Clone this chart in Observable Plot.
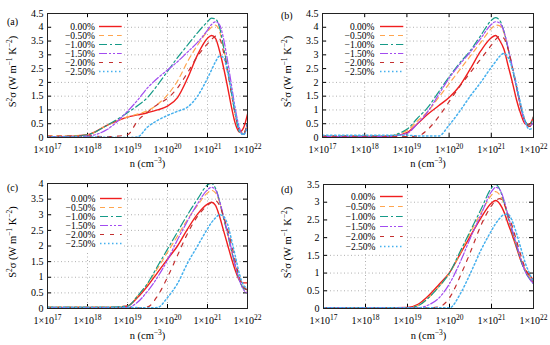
<!DOCTYPE html>
<html><head><meta charset="utf-8">
<script src="https://cdn.jsdelivr.net/npm/d3@7"></script>
<script src="https://cdn.jsdelivr.net/npm/@observablehq/plot@0.6"></script>
<style>
body{margin:0;background:#fff;}
#root{position:relative;width:550px;height:345px;overflow:hidden;background:#fff;font-family:"Liberation Serif",serif;}
#root svg{position:absolute;}
.tag{position:absolute;font-size:10px;line-height:10px;color:#000;}
</style></head><body><div id="root"></div>
<script>
// carrier concentration grid, log10(n / cm^-3)
const logN = [17,17.5,18,18.5,19,19.25,19.5,19.75,20,20.25,20.5,20.75,21,21.1,21.2,21.3,21.4,21.5,21.6,21.7,21.8,21.9,22];
const seriesLabels = ["0.00%","\u22120.50%","\u22121.00%","\u22121.50%","\u22122.00%","\u22122.50%"];
const xTicks = [1e17,1e18,1e19,1e20,1e21,1e22];
const yTicksAB = [0,0.5,1,1.5,2,2.5,3,3.5,4,4.5];
const yTicksC = [0,0.5,1,1.5,2,2.5,3,3.5,4];
const yTicksD = [0,0.5,1,1.5,2,2.5,3,3.5];
const panelTags = ["(a)","(b)","(c)","(d)"];
const yLabel = "S^{2}\u03C3 (W m^{\u22121} K^{\u22122})";
const xLabel = "n (cm^{\u22123})";

// panel (a)
const A_p000 = [0.03,0.04,0.1,0.45,0.74,0.82,0.9,1.0,1.14,1.45,2.15,3.0,3.6,3.7,3.6,3.15,2.55,1.85,1.1,0.48,0.2,0.35,0.85];
const A_m050 = [0.06,0.06,0.1,0.45,0.75,0.85,0.97,1.2,1.55,2.05,2.75,3.35,3.85,4.0,4.08,3.85,3.25,2.45,1.6,0.8,0.25,0.15,0.55];
const A_m100 = [0.03,0.04,0.1,0.45,0.9,1.15,1.45,1.9,2.4,2.9,3.35,3.8,4.2,4.33,4.3,4.0,3.3,2.5,1.6,0.8,0.2,0.12,0.6];
const A_m150 = [0.02,0.02,0.05,0.3,0.95,1.35,1.8,2.15,2.45,2.75,3.1,3.45,3.9,4.1,4.2,4.1,3.6,2.8,1.9,1.0,0.35,0.1,0.5];
const A_m200 = [0.05,0.05,0.05,0.03,0.1,0.6,0.92,1.2,1.42,1.8,2.35,2.95,3.4,3.55,3.68,3.6,3.1,2.4,1.6,0.8,0.25,0.15,0.5];
const A_m250 = [0.02,0.02,0.02,0.01,0.0,0.02,0.38,0.62,0.8,0.95,1.1,1.5,2.15,2.45,2.75,2.95,2.9,2.4,1.7,0.9,0.25,0.1,0.4];
// panel (b)
const B_p000 = [0.02,0.02,0.02,0.03,0.18,0.5,0.85,1.15,1.45,1.87,2.48,3.14,3.62,3.7,3.52,3.2,2.6,2.0,1.35,0.85,0.5,0.48,0.75];
const B_m050 = [0.06,0.06,0.06,0.06,0.25,0.6,0.95,1.45,1.95,2.45,2.95,3.45,3.95,4.08,4.05,3.8,3.2,2.5,1.8,1.1,0.6,0.4,0.6];
const B_m100 = [0.05,0.05,0.05,0.05,0.3,0.7,1.1,1.65,2.2,2.7,3.15,3.7,4.25,4.35,4.25,3.85,3.2,2.5,1.8,1.1,0.6,0.45,0.75];
const B_m150 = [0.03,0.03,0.03,0.03,0.15,0.5,0.95,1.55,2.15,2.65,3.1,3.6,4.1,4.2,4.15,3.85,3.25,2.55,1.8,1.1,0.55,0.4,0.55];
const B_m200 = [0.05,0.05,0.05,0.05,0.03,0.05,0.3,0.75,1.3,1.85,2.35,2.85,3.35,3.55,3.68,3.6,3.2,2.55,1.85,1.15,0.6,0.4,0.5];
const B_m250 = [0.08,0.08,0.08,0.08,0.08,0.06,0.05,0.05,0.45,0.95,1.5,2.0,2.55,2.75,2.95,3.05,2.9,2.5,1.9,1.2,0.6,0.3,0.35];
// panel (c)
const C_p000 = [0.03,0.03,0.03,0.03,0.08,0.35,0.72,1.15,1.58,2.0,2.54,3.02,3.34,3.4,3.3,2.95,2.5,2.05,1.6,1.2,0.9,0.82,0.82];
const C_m050 = [0.05,0.05,0.05,0.05,0.08,0.4,0.78,1.28,1.8,2.32,2.85,3.3,3.7,3.78,3.7,3.4,2.9,2.4,1.85,1.35,0.9,0.65,0.55];
const C_m100 = [0.04,0.04,0.04,0.04,0.08,0.4,0.8,1.35,1.9,2.45,3.0,3.5,3.95,4.0,3.85,3.45,2.9,2.4,1.85,1.35,0.9,0.65,0.6];
const C_m150 = [0.03,0.03,0.03,0.03,0.03,0.2,0.55,1.0,1.55,2.2,2.8,3.35,3.8,3.88,3.8,3.45,2.95,2.45,1.9,1.35,0.9,0.6,0.5];
const C_m200 = [0.03,0.03,0.03,0.03,0.03,0.02,0.05,0.4,1.0,1.7,2.4,2.95,3.3,3.4,3.45,3.3,2.95,2.55,2.05,1.5,1.0,0.7,0.6];
const C_m250 = [0.04,0.04,0.04,0.04,0.04,0.03,0.02,0.03,0.35,0.8,1.45,2.0,2.55,2.75,2.9,3.0,2.95,2.7,2.2,1.65,1.1,0.75,0.65];
// panel (d)
const D_p000 = [0.02,0.02,0.02,0.02,0.03,0.12,0.36,0.68,1.01,1.53,2.05,2.56,2.98,3.05,2.95,2.72,2.38,2.05,1.7,1.35,1.1,0.95,0.8];
const D_m050 = [0.02,0.02,0.02,0.02,0.02,0.08,0.3,0.62,1.0,1.55,2.15,2.7,3.2,3.3,3.2,2.95,2.55,2.15,1.75,1.4,1.1,0.9,0.75];
const D_m100 = [0.02,0.02,0.02,0.02,0.02,0.08,0.3,0.62,1.0,1.6,2.2,2.8,3.4,3.5,3.35,3.0,2.55,2.15,1.75,1.35,1.05,0.85,0.7];
const D_m150 = [0.02,0.02,0.02,0.02,0.02,0.02,0.1,0.3,0.7,1.3,2.0,2.65,3.3,3.42,3.35,3.05,2.6,2.2,1.8,1.4,1.05,0.85,0.7];
const D_m200 = [0.02,0.02,0.02,0.02,0.02,0.02,0.02,0.05,0.3,0.9,1.6,2.35,2.9,3.05,3.1,2.95,2.65,2.3,1.9,1.5,1.15,0.92,0.75];
const D_m250 = [0.02,0.02,0.02,0.02,0.02,0.02,0.02,0.02,0.02,0.4,1.0,1.65,2.2,2.4,2.55,2.65,2.65,2.45,2.1,1.7,1.3,1.0,0.75];

const styles = [
  {stroke:"#f01e1e", dash:null, w:1.4},
  {stroke:"#ffa54f", dash:"5,4", w:1.2},
  {stroke:"#169a88", dash:"8,3,2,3", w:1.2},
  {stroke:"#a24cf0", dash:"8,2,2,2,2,2", w:1.2},
  {stroke:"#c43030", dash:"4,6", w:1.2},
  {stroke:"#45b0ee", dash:"1.5,2.5", w:1.5}
];

const root = document.getElementById("root");
const FONT = "'Liberation Serif', 'Times New Roman', serif";
const NS = "http://www.w3.org/2000/svg";

function place(el, left, top) {
  el.style.left = left + "px"; el.style.top = top + "px"; root.appendChild(el);
}

// turn "^{..}" markers into raised, smaller tspans
function superscripts(svg, supSize) {
  svg.querySelectorAll("text").forEach(t => {
    const txt = t.textContent;
    if (!txt.includes("^{")) return;
    const parts = txt.split(/\^\{([^}]*)\}/);
    t.textContent = "";
    let raised = false;
    parts.forEach((part, i) => {
      if (part === "") return;
      const ts = document.createElementNS(NS, "tspan");
      ts.textContent = part;
      if (i % 2 === 1) {
        ts.setAttribute("font-size", supSize);
        if (!raised) ts.setAttribute("dy", "-4");
        raised = true;
      } else if (raised) {
        ts.setAttribute("dy", "4");
        raised = false;
      }
      t.appendChild(ts);
    });
  });
}

function panel(p) {
  const innerH = p.h - p.mt - p.mb, innerW = p.w - p.ml - p.mr;
  const marks = [
    Plot.ruleX(xTicks, {x: d => d, stroke: "#b0b0b0", strokeDasharray: "1,2.5"}),
    Plot.ruleY(p.yTicks, {y: d => d, stroke: "#b0b0b0", strokeDasharray: "1,2.5"}),
    Plot.tickX(xTicks, {x: d => d, insetTop: innerH - 4, stroke: "#000"}),
    Plot.tickX(xTicks, {x: d => d, insetBottom: innerH - 4, stroke: "#000"}),
    Plot.tickY(p.yTicks, {y: d => d, insetRight: innerW - 4, stroke: "#000"}),
    Plot.tickY(p.yTicks, {y: d => d, insetLeft: innerW - 4, stroke: "#000"})
  ];
  p.series.forEach((vals, i) => {
    const data = logN.map((e, j) => ({n: 10 ** e, v: vals[j]}));
    const s = styles[i];
    marks.push(Plot.line(data, {x: "n", y: "v", curve: "monotone-x", stroke: s.stroke,
      strokeWidth: s.w, strokeDasharray: s.dash, clip: true}));
  });
  marks.push(Plot.frame({stroke: "#222", strokeWidth: 1}));
  marks.push(Plot.text([yLabel], {text: d => d, frameAnchor: "left", textAnchor: "middle", lineAnchor: "middle",
    dx: -(p.ml - 12), dy: -4, rotate: -90, fontSize: 10.5}));
  marks.push(Plot.text([xLabel], {text: d => d, frameAnchor: "bottom", textAnchor: "middle", lineAnchor: "middle",
    dy: p.xlab, fontSize: 10.5}));
  const svg = Plot.plot({
    width: p.w, height: p.h, marginTop: p.mt, marginRight: p.mr, marginBottom: p.mb, marginLeft: p.ml,
    style: {fontFamily: FONT, fontSize: "10px", background: "transparent", color: "#000"},
    x: {type: "log", domain: [1e17, 1e22], ticks: xTicks, tickFormat: d => "1×10^{" + Math.round(Math.log10(d)) + "}",
        tickSize: 0, tickPadding: 8, label: null},
    y: {domain: [0, p.yMax], ticks: p.yTicks, tickFormat: d => String(d), tickSize: 0, tickPadding: 4, label: null},
    marks
  });
  superscripts(svg, "7.5");
  place(svg, p.left, p.top);

  // legend overlay (opaque box as in the original key)
  const L = p.leg;
  const bw = L.boxR - L.boxL, bh = L.boxB - L.boxT;
  const lmarks = [Plot.text(seriesLabels, {y: d => d, text: d => d, frameAnchor: "left", textAnchor: "end",
      lineAnchor: "middle", dx: -(L.lx - L.textRight), fontSize: 9.5})];
  seriesLabels.forEach((lab, i) => {
    const s = styles[i];
    lmarks.push(Plot.ruleY([lab], {y: d => d, stroke: s.stroke, strokeWidth: s.w, strokeDasharray: s.dash}));
  });
  const leg = Plot.plot({
    width: bw, height: bh,
    marginLeft: L.lx - L.boxL, marginRight: L.boxR - L.lxEnd,
    marginTop: L.row0 - L.step / 2 - L.boxT, marginBottom: L.boxB - (L.row0 + 5.5 * L.step),
    style: {fontFamily: FONT, fontSize: "9.5px", background: "#fff", color: "#000"},
    x: {domain: [0, 1], axis: null},
    y: {type: "point", domain: seriesLabels, padding: 0.5, axis: null},
    marks: lmarks
  });
  place(leg, L.boxL, L.boxT);

  const tag = document.createElement("div");
  tag.className = "tag"; tag.textContent = p.tag;
  place(tag, p.tagX, p.tagY);
}

panel({left: 0, top: 0, w: 275, h: 172, mt: 13, mr: 28, mb: 35, ml: 47, xlab: 26,
  yMax: 4.5, yTicks: yTicksAB, series: [A_p000, A_m050, A_m100, A_m150, A_m200, A_m250],
  tag: panelTags[0], tagX: 7, tagY: 17,
  leg: {boxL: 52, boxT: 18, boxR: 124, boxB: 81, textRight: 94.3, lx: 99, lxEnd: 121.7, row0: 24.3, step: 9.8}});
panel({left: 275, top: 0, w: 275, h: 172, mt: 13, mr: 17, mb: 35, ml: 47, xlab: 26,
  yMax: 4.5, yTicks: yTicksAB, series: [B_p000, B_m050, B_m100, B_m150, B_m200, B_m250],
  tag: panelTags[1], tagX: 281, tagY: 11,
  leg: {boxL: 327, boxT: 18, boxR: 405, boxB: 81, textRight: 374, lx: 380, lxEnd: 403.3, row0: 24.3, step: 9.8}});
panel({left: 0, top: 172, w: 275, h: 173, mt: 11, mr: 28, mb: 37, ml: 47, xlab: 27,
  yMax: 4, yTicks: yTicksC, series: [C_p000, C_m050, C_m100, C_m150, C_m200, C_m250],
  tag: panelTags[2], tagX: 7, tagY: 183,
  leg: {boxL: 52, boxT: 188, boxR: 124, boxB: 252, textRight: 95, lx: 100, lxEnd: 121.7, row0: 196, step: 9.9}});
panel({left: 275, top: 172, w: 275, h: 173, mt: 12, mr: 17, mb: 37, ml: 48, xlab: 27,
  yMax: 3.5, yTicks: yTicksD, series: [D_p000, D_m050, D_m100, D_m150, D_m200, D_m250],
  tag: panelTags[3], tagX: 281, tagY: 185,
  leg: {boxL: 328, boxT: 189, boxR: 405, boxB: 253, textRight: 375, lx: 380, lxEnd: 402.7, row0: 195.5, step: 10}});
</script>
</body></html>
